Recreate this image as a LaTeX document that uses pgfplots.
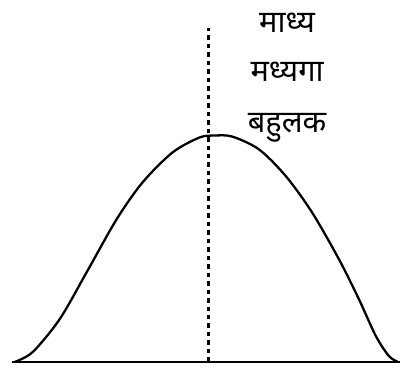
\documentclass[border=0pt]{standalone}
\usepackage{pgfplots}
\pgfplotsset{compat=1.18}
\usepackage{fontspec}
\newfontfamily\devfont[Script=Devanagari]{Noto Sans}
\begin{document}
\begin{tikzpicture}
\begin{axis}[
  width=401bp, height=370bp, scale only axis,
  xmin=0, xmax=401, ymin=0, ymax=370,
  axis lines=none, clip=false,
]
\path[draw=none] (axis cs:0,0) rectangle (axis cs:401,370);
% baseline
\addplot[black, line width=2.6bp] coordinates {(12,7) (401,7)};
% curve
\addplot[black, line width=2.3bp, smooth] coordinates {
(15,7) (33,17) (60,50) (87,97) (117,150) (143,187) (173,217) (200,232) (215,234) (233,233) (260,220) (287,193) (313,157) (340,110) (360,70) (377,33) (390,13) (399,7)
};
% dashed line
\addplot[black, line width=2.4bp, dash pattern=on 4.5bp off 4bp] coordinates {(209,7) (209,342)};
\node[anchor=base, font=\devfont\fontsize{31}{34}\selectfont] at (axis cs:288,337) {माध्य};
\node[anchor=base, font=\devfont\fontsize{31}{34}\selectfont] at (axis cs:288,288) {मध्यगा};
\node[anchor=base, font=\devfont\fontsize{31}{34}\selectfont] at (axis cs:288,237) {बहुलक};
\end{axis}
\end{tikzpicture}
\end{document}
